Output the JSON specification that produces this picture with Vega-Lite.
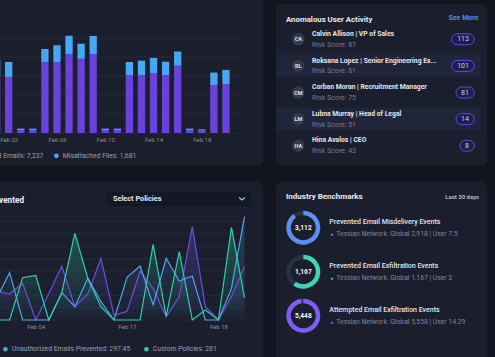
{
  "$schema": "https://vega.github.io/schema/vega-lite/v6.json",
  "background": "#12151e",
  "padding": {"left": -130, "top": -20, "right": 8, "bottom": 0},
  "autosize": {"type": "pad"},
  "config": {
    "font": "Roboto",
    "view": {"stroke": null},
    "legend": {"labelFont": "Roboto"},
    "axis": {"labelFont": "Roboto", "titleFont": "Roboto"}
  },
  "datasets": {
    "bars": [
      {"date": "2024/02/01", "type": "Misdirected Emails", "count": 298}, {"date": "2024/02/01", "type": "Misattached Files", "count": 88},
      {"date": "2024/02/02", "type": "Misdirected Emails", "count": 295}, {"date": "2024/02/02", "type": "Misattached Files", "count": 79},
      {"date": "2024/02/03", "type": "Misdirected Emails", "count": 16}, {"date": "2024/02/03", "type": "Misattached Files", "count": 7},
      {"date": "2024/02/04", "type": "Misdirected Emails", "count": 16}, {"date": "2024/02/04", "type": "Misattached Files", "count": 7},
      {"date": "2024/02/05", "type": "Misdirected Emails", "count": 374}, {"date": "2024/02/05", "type": "Misattached Files", "count": 68},
      {"date": "2024/02/06", "type": "Misdirected Emails", "count": 374}, {"date": "2024/02/06", "type": "Misattached Files", "count": 88},
      {"date": "2024/02/07", "type": "Misdirected Emails", "count": 416}, {"date": "2024/02/07", "type": "Misattached Files", "count": 96},
      {"date": "2024/02/08", "type": "Misdirected Emails", "count": 391}, {"date": "2024/02/08", "type": "Misattached Files", "count": 79},
      {"date": "2024/02/09", "type": "Misdirected Emails", "count": 416}, {"date": "2024/02/09", "type": "Misattached Files", "count": 95},
      {"date": "2024/02/10", "type": "Misdirected Emails", "count": 16}, {"date": "2024/02/10", "type": "Misattached Files", "count": 7},
      {"date": "2024/02/11", "type": "Misdirected Emails", "count": 16}, {"date": "2024/02/11", "type": "Misattached Files", "count": 7},
      {"date": "2024/02/12", "type": "Misdirected Emails", "count": 304}, {"date": "2024/02/12", "type": "Misattached Files", "count": 70},
      {"date": "2024/02/13", "type": "Misdirected Emails", "count": 304}, {"date": "2024/02/13", "type": "Misattached Files", "count": 77},
      {"date": "2024/02/14", "type": "Misdirected Emails", "count": 316}, {"date": "2024/02/14", "type": "Misattached Files", "count": 79},
      {"date": "2024/02/15", "type": "Misdirected Emails", "count": 305}, {"date": "2024/02/15", "type": "Misattached Files", "count": 70},
      {"date": "2024/02/16", "type": "Misdirected Emails", "count": 354}, {"date": "2024/02/16", "type": "Misattached Files", "count": 75},
      {"date": "2024/02/17", "type": "Misdirected Emails", "count": 16}, {"date": "2024/02/17", "type": "Misattached Files", "count": 7},
      {"date": "2024/02/18", "type": "Misdirected Emails", "count": 13}, {"date": "2024/02/18", "type": "Misattached Files", "count": 6},
      {"date": "2024/02/19", "type": "Misdirected Emails", "count": 253}, {"date": "2024/02/19", "type": "Misattached Files", "count": 65},
      {"date": "2024/02/20", "type": "Misdirected Emails", "count": 258}, {"date": "2024/02/20", "type": "Misattached Files", "count": 74}
    ],
    "lines": [
      {"date": "2024/02/01", "series": "Sensitive Data Prevented", "value": 23.6}, {"date": "2024/02/01", "series": "Unauthorized Emails Prevented", "value": 17.6}, {"date": "2024/02/01", "series": "Custom Policies", "value": 0},
      {"date": "2024/02/02", "series": "Sensitive Data Prevented", "value": 21.1}, {"date": "2024/02/02", "series": "Unauthorized Emails Prevented", "value": 38.5}, {"date": "2024/02/02", "series": "Custom Policies", "value": 0},
      {"date": "2024/02/03", "series": "Sensitive Data Prevented", "value": 29.8}, {"date": "2024/02/03", "series": "Unauthorized Emails Prevented", "value": 0}, {"date": "2024/02/03", "series": "Custom Policies", "value": 34.4},
      {"date": "2024/02/04", "series": "Sensitive Data Prevented", "value": 0}, {"date": "2024/02/04", "series": "Unauthorized Emails Prevented", "value": 0}, {"date": "2024/02/04", "series": "Custom Policies", "value": 36.3},
      {"date": "2024/02/05", "series": "Sensitive Data Prevented", "value": 21.4}, {"date": "2024/02/05", "series": "Unauthorized Emails Prevented", "value": 0}, {"date": "2024/02/05", "series": "Custom Policies", "value": 0},
      {"date": "2024/02/06", "series": "Sensitive Data Prevented", "value": 43.9}, {"date": "2024/02/06", "series": "Unauthorized Emails Prevented", "value": 22.2}, {"date": "2024/02/06", "series": "Custom Policies", "value": 22.2},
      {"date": "2024/02/07", "series": "Sensitive Data Prevented", "value": 10.8}, {"date": "2024/02/07", "series": "Unauthorized Emails Prevented", "value": 10.8}, {"date": "2024/02/07", "series": "Custom Policies", "value": 70.5},
      {"date": "2024/02/08", "series": "Sensitive Data Prevented", "value": 21.4}, {"date": "2024/02/08", "series": "Unauthorized Emails Prevented", "value": 34.1}, {"date": "2024/02/08", "series": "Custom Policies", "value": 33.6},
      {"date": "2024/02/09", "series": "Sensitive Data Prevented", "value": 49.9}, {"date": "2024/02/09", "series": "Unauthorized Emails Prevented", "value": 14.9}, {"date": "2024/02/09", "series": "Custom Policies", "value": 10.8},
      {"date": "2024/02/10", "series": "Sensitive Data Prevented", "value": 3.8}, {"date": "2024/02/10", "series": "Unauthorized Emails Prevented", "value": 0}, {"date": "2024/02/10", "series": "Custom Policies", "value": 0},
      {"date": "2024/02/11", "series": "Sensitive Data Prevented", "value": 7}, {"date": "2024/02/11", "series": "Unauthorized Emails Prevented", "value": 34.7}, {"date": "2024/02/11", "series": "Custom Policies", "value": 0},
      {"date": "2024/02/12", "series": "Sensitive Data Prevented", "value": 39.8}, {"date": "2024/02/12", "series": "Unauthorized Emails Prevented", "value": 43.9}, {"date": "2024/02/12", "series": "Custom Policies", "value": 0},
      {"date": "2024/02/13", "series": "Sensitive Data Prevented", "value": 25.5}, {"date": "2024/02/13", "series": "Unauthorized Emails Prevented", "value": 12.2}, {"date": "2024/02/13", "series": "Custom Policies", "value": 61.5},
      {"date": "2024/02/14", "series": "Sensitive Data Prevented", "value": 2.7}, {"date": "2024/02/14", "series": "Unauthorized Emails Prevented", "value": 50.1}, {"date": "2024/02/14", "series": "Custom Policies", "value": 3},
      {"date": "2024/02/15", "series": "Sensitive Data Prevented", "value": 19}, {"date": "2024/02/15", "series": "Unauthorized Emails Prevented", "value": 31.7}, {"date": "2024/02/15", "series": "Custom Policies", "value": 55.6},
      {"date": "2024/02/16", "series": "Sensitive Data Prevented", "value": 75.9}, {"date": "2024/02/16", "series": "Unauthorized Emails Prevented", "value": 35.8}, {"date": "2024/02/16", "series": "Custom Policies", "value": 0},
      {"date": "2024/02/17", "series": "Sensitive Data Prevented", "value": 10.8}, {"date": "2024/02/17", "series": "Unauthorized Emails Prevented", "value": 0}, {"date": "2024/02/17", "series": "Custom Policies", "value": 8.1},
      {"date": "2024/02/18", "series": "Sensitive Data Prevented", "value": 0}, {"date": "2024/02/18", "series": "Unauthorized Emails Prevented", "value": 0}, {"date": "2024/02/18", "series": "Custom Policies", "value": 0},
      {"date": "2024/02/19", "series": "Sensitive Data Prevented", "value": 19}, {"date": "2024/02/19", "series": "Unauthorized Emails Prevented", "value": 25.7}, {"date": "2024/02/19", "series": "Custom Policies", "value": 75.3},
      {"date": "2024/02/20", "series": "Sensitive Data Prevented", "value": 43.4}, {"date": "2024/02/20", "series": "Unauthorized Emails Prevented", "value": 84}, {"date": "2024/02/20", "series": "Custom Policies", "value": 18.2}
    ],
    "users": [
      {"initials": "CA", "user": "Calvin Allison | VP of Sales", "risk": 87, "events": 113},
      {"initials": "RL", "user": "Roksana Lopez | Senior Engineering Ex...", "risk": 81, "events": 101},
      {"initials": "CM", "user": "Corban Moran | Recruitment Manager", "risk": 75, "events": 81},
      {"initials": "LM", "user": "Lubna Murray | Head of Legal", "risk": 51, "events": 14},
      {"initials": "HA", "user": "Hina Avalos | CEO", "risk": 43, "events": 8}
    ],
    "bench": [
      {"event": "Prevented Email Misdelivery Events", "total": 3112, "global": 2918, "user": 7.5, "share": 0.9},
      {"event": "Prevented Email Exfiltration Events", "total": 1167, "global": 1167, "user": 3, "share": 0.6},
      {"event": "Attempted Email Exfiltration Events", "total": 5448, "global": 5558, "user": 14.29, "share": 0.98}
    ]
  },
  "spacing": 13,
  "resolve": {"scale": {"color": "independent"}, "legend": {"color": "independent"}},
  "hconcat": [
    {
      "bounds": "flush",
      "spacing": 16,
      "resolve": {"scale": {"color": "independent"}, "legend": {"color": "independent"}},
      "vconcat": [
        {
          "width": 393,
          "height": 186,
          "view": {"fill": "#1b1f2d", "cornerRadius": 6, "stroke": null},
          "layer": [
            {
              "data": {"values": [{"tick": 0}, {"tick": 100}, {"tick": 200}, {"tick": 300}, {"tick": 400}, {"tick": 500}]},
              "mark": {"type": "rule", "color": "#282d3b", "strokeWidth": 0.8},
              "encoding": {
                "x": {"datum": {"year": 2024, "month": 1, "date": 22}, "type": "temporal",
                      "scale": {"domain": [{"year": 2024, "month": 1, "date": 21, "hours": 12, "minutes": 13}, {"year": 2024, "month": 2, "date": 23, "hours": 1, "minutes": 39}], "nice": false, "padding": 0}},
                "x2": {"datum": {"year": 2024, "month": 2, "date": 21, "hours": 4}},
                "y": {"field": "tick", "type": "quantitative", "scale": {"domain": [-173.7, 805.3], "nice": false, "zero": false, "padding": 0}, "axis": null}
              }
            },
            {
              "data": {"name": "bars"},
              "mark": {"type": "bar", "width": 7.3},
              "encoding": {
                "x": {"field": "date", "type": "temporal",
                      "scale": {"domain": [{"year": 2024, "month": 1, "date": 21, "hours": 12, "minutes": 13}, {"year": 2024, "month": 2, "date": 23, "hours": 1, "minutes": 39}], "nice": false, "padding": 0},
                      "axis": {"orient": "bottom", "offset": -33, "values": [{"year": 2024, "month": 2, "date": 2}, {"year": 2024, "month": 2, "date": 6}, {"year": 2024, "month": 2, "date": 10}, {"year": 2024, "month": 2, "date": 14}, {"year": 2024, "month": 2, "date": 18}],
                               "format": "%b %d", "labelFontSize": 6, "labelColor": "#868b98", "ticks": false, "domain": false, "grid": false, "labelPadding": 3, "title": null, "labelOverlap": false, "labelFlush": false}},
                "y": {"field": "count", "type": "quantitative", "stack": "zero", "scale": {"domain": [-173.7, 805.3], "nice": false, "zero": false, "padding": 0}, "axis": null},
                "color": {"field": "type", "type": "nominal",
                          "scale": {"domain": ["Misdirected Emails", "Misattached Files"], "range": ["#6a42d9", "#46a8f1"]},
                          "legend": {"orient": "none", "legendX": 86, "legendY": 172, "direction": "horizontal", "title": null, "padding": 0,
                                     "labelFontSize": 6.8, "labelColor": "#9aa0ac", "symbolType": "circle", "symbolSize": 22, "symbolStrokeWidth": 0,
                                     "columnPadding": 9, "labelOffset": 3,
                                     "labelExpr": "datum.label == 'Misdirected Emails' ? 'Misdirected Emails: 7,237' : 'Misattached Files: 1,681'"}},
                "order": {"field": "type", "type": "ordinal", "sort": "descending"}
              }
            }
          ]
        },
        {
          "width": 393,
          "height": 185,
          "view": {"fill": "#1b1f2d", "cornerRadius": 6, "stroke": null},
          "title": {"text": "Emails Prevented", "anchor": "start", "frame": "group", "align": "right", "dx": 154, "offset": -27, "baseline": "middle", "fontSize": 8.2, "fontWeight": "bold", "color": "#eef0f4"},
          "layer": [
            {
              "data": {"values": [{"tick": 0}, {"tick": 10}, {"tick": 20}, {"tick": 30}, {"tick": 40}, {"tick": 50}, {"tick": 60}, {"tick": 70}, {"tick": 80}]},
              "mark": {"type": "rule", "color": "#282d3b", "strokeWidth": 0.8},
              "encoding": {
                "x": {"datum": {"year": 2024, "month": 1, "date": 23}, "type": "temporal",
                      "scale": {"domain": [{"year": 2024, "month": 1, "date": 22, "hours": 7, "minutes": 16}, {"year": 2024, "month": 2, "date": 21, "hours": 10, "minutes": 2}], "nice": false, "padding": 0}},
                "x2": {"datum": {"year": 2024, "month": 2, "date": 20}},
                "y": {"field": "tick", "type": "quantitative", "scale": {"domain": [-38.2, 112.2], "nice": false, "zero": false, "padding": 0}, "axis": null}
              }
            },
            {
              "data": {"values": [{"control": "Select Policies"}]},
              "mark": {"type": "rect", "fill": "#141824", "stroke": "#20253a", "strokeWidth": 0.8, "cornerRadius": 3},
              "encoding": {
                "x": {"datum": {"year": 2024, "month": 2, "date": 9, "hours": 9, "minutes": 17}, "type": "temporal",
                      "scale": {"domain": [{"year": 2024, "month": 1, "date": 22, "hours": 7, "minutes": 16}, {"year": 2024, "month": 2, "date": 21, "hours": 10, "minutes": 2}], "nice": false, "padding": 0}},
                "x2": {"datum": {"year": 2024, "month": 2, "date": 20, "hours": 13, "minutes": 48}},
                "y": {"datum": 104.3, "type": "quantitative", "scale": {"domain": [-38.2, 112.2], "nice": false, "zero": false, "padding": 0}, "axis": null},
                "y2": {"datum": 91.9}
              }
            },
            {
              "data": {"values": [{"control": "Select Policies"}]},
              "mark": {"type": "text", "align": "left", "baseline": "middle", "fontSize": 7.3, "fontWeight": "bold", "color": "#e6e8ef"},
              "encoding": {
                "x": {"datum": {"year": 2024, "month": 2, "date": 9, "hours": 22, "minutes": 9}, "type": "temporal",
                      "scale": {"domain": [{"year": 2024, "month": 1, "date": 22, "hours": 7, "minutes": 16}, {"year": 2024, "month": 2, "date": 21, "hours": 10, "minutes": 2}], "nice": false, "padding": 0}},
                "y": {"datum": 98.4, "type": "quantitative", "scale": {"domain": [-38.2, 112.2], "nice": false, "zero": false, "padding": 0}, "axis": null},
                "text": {"field": "control"}
              }
            },
            {
              "data": {"values": [{"control": "Select Policies"}]},
              "mark": {"type": "point", "shape": "M -1 -0.45 L 0 0.45 L 1 -0.45", "filled": false, "size": 32, "stroke": "#b9c5de", "strokeWidth": 1.2, "opacity": 1},
              "encoding": {
                "x": {"datum": {"year": 2024, "month": 2, "date": 19, "hours": 19, "minutes": 24}, "type": "temporal",
                      "scale": {"domain": [{"year": 2024, "month": 1, "date": 22, "hours": 7, "minutes": 16}, {"year": 2024, "month": 2, "date": 21, "hours": 10, "minutes": 2}], "nice": false, "padding": 0}},
                "y": {"datum": 98.6, "type": "quantitative", "scale": {"domain": [-38.2, 112.2], "nice": false, "zero": false, "padding": 0}, "axis": null}
              }
            },
            {
              "data": {"name": "lines"},
              "transform": [{"filter": "datum.series == 'Sensitive Data Prevented'"}],
              "mark": {"type": "area", "fill": {"gradient": "linear", "x1": 0, "y1": 0, "x2": 0, "y2": 1, "stops": [{"offset": 0, "color": "rgba(107,78,217,0.35)"}, {"offset": 1, "color": "rgba(107,78,217,0)"}]}},
              "encoding": {
                "x": {"field": "date", "type": "temporal",
                      "scale": {"domain": [{"year": 2024, "month": 1, "date": 22, "hours": 7, "minutes": 16}, {"year": 2024, "month": 2, "date": 21, "hours": 10, "minutes": 2}], "nice": false, "padding": 0}},
                "y": {"field": "value", "type": "quantitative", "stack": null, "scale": {"domain": [-38.2, 112.2], "nice": false, "zero": false, "padding": 0}, "axis": null}
              }
            },
            {
              "data": {"name": "lines"},
              "transform": [{"filter": "datum.series == 'Custom Policies'"}],
              "mark": {"type": "area", "fill": {"gradient": "linear", "x1": 0, "y1": 0, "x2": 0, "y2": 1, "stops": [{"offset": 0, "color": "rgba(47,207,168,0.32)"}, {"offset": 1, "color": "rgba(47,207,168,0)"}]}},
              "encoding": {
                "x": {"field": "date", "type": "temporal",
                      "scale": {"domain": [{"year": 2024, "month": 1, "date": 22, "hours": 7, "minutes": 16}, {"year": 2024, "month": 2, "date": 21, "hours": 10, "minutes": 2}], "nice": false, "padding": 0}},
                "y": {"field": "value", "type": "quantitative", "stack": null, "scale": {"domain": [-38.2, 112.2], "nice": false, "zero": false, "padding": 0}, "axis": null}
              }
            },
            {
              "data": {"name": "lines"},
              "transform": [{"filter": "datum.series == 'Unauthorized Emails Prevented'"}],
              "mark": {"type": "area", "fill": {"gradient": "linear", "x1": 0, "y1": 0, "x2": 0, "y2": 1, "stops": [{"offset": 0, "color": "rgba(77,163,234,0.25)"}, {"offset": 1, "color": "rgba(77,163,234,0)"}]}},
              "encoding": {
                "x": {"field": "date", "type": "temporal",
                      "scale": {"domain": [{"year": 2024, "month": 1, "date": 22, "hours": 7, "minutes": 16}, {"year": 2024, "month": 2, "date": 21, "hours": 10, "minutes": 2}], "nice": false, "padding": 0}},
                "y": {"field": "value", "type": "quantitative", "stack": null, "scale": {"domain": [-38.2, 112.2], "nice": false, "zero": false, "padding": 0}, "axis": null}
              }
            },
            {
              "data": {"name": "lines"},
              "mark": {"type": "line", "strokeWidth": 1.2},
              "encoding": {
                "x": {"field": "date", "type": "temporal",
                      "scale": {"domain": [{"year": 2024, "month": 1, "date": 22, "hours": 7, "minutes": 16}, {"year": 2024, "month": 2, "date": 21, "hours": 10, "minutes": 2}], "nice": false, "padding": 0},
                      "axis": {"orient": "bottom", "offset": -47, "values": [{"year": 2024, "month": 2, "date": 4}, {"year": 2024, "month": 2, "date": 11}, {"year": 2024, "month": 2, "date": 18}],
                               "format": "%b %d", "labelFontSize": 6, "labelColor": "#868b98", "ticks": false, "domain": false, "grid": false, "labelPadding": 3, "title": null, "labelOverlap": false, "labelFlush": false}},
                "y": {"field": "value", "type": "quantitative", "stack": null, "scale": {"domain": [-38.2, 112.2], "nice": false, "zero": false, "padding": 0}, "axis": null},
                "color": {"field": "series", "type": "nominal",
                          "scale": {"domain": ["Sensitive Data Prevented", "Unauthorized Emails Prevented", "Custom Policies"], "range": ["#6c4fd9", "#4da6ea", "#2fcfa8"]},
                          "legend": {"orient": "none", "legendX": 35, "legendY": 163.5, "direction": "horizontal", "title": null, "padding": 0,
                                     "labelFontSize": 6.8, "labelColor": "#9aa0ac", "symbolType": "circle", "symbolSize": 5, "symbolStrokeWidth": 2.4,
                                     "columnPadding": 9, "labelOffset": 3,
                                     "labelExpr": "datum.label == 'Unauthorized Emails Prevented' ? datum.label + ': 297.45' : datum.label == 'Custom Policies' ? datum.label + ': 281' : datum.label"}}
              }
            }
          ]
        }
      ]
    },
    {
      "bounds": "flush",
      "spacing": 16,
      "resolve": {"scale": {"color": "independent"}, "legend": {"color": "independent"}},
      "vconcat": [
        {
          "width": 211,
          "height": 8,
          "data": {"values": []},
          "mark": {"type": "point", "opacity": 0},
          "encoding": {}
        },
        {
          "width": 211,
          "height": 162,
          "view": {"fill": "#1b1f2d", "cornerRadius": 6, "stroke": null},
          "title": {"text": "Anomalous User Activity", "anchor": "start", "frame": "group", "align": "left", "dx": 10, "offset": -24, "baseline": "middle", "fontSize": 7.8, "fontWeight": "bold", "color": "#e9ebf0"},
          "data": {"name": "users"},
          "transform": [
            {"calculate": "'Risk Score: ' + datum.risk", "as": "riskLabel"},
            {"window": [{"op": "row_number", "as": "row"}]}
          ],
          "encoding": {
            "y": {"field": "user", "type": "nominal",
                  "scale": {"type": "band", "domain": ["Calvin Allison | VP of Sales", "Roksana Lopez | Senior Engineering Ex...", "Corban Moran | Recruitment Manager", "Lubna Murray | Head of Legal", "Hina Avalos | CEO"], "paddingInner": 0, "paddingOuter": 0.545, "align": 0.759},
                  "axis": null}
          },
          "layer": [
            {
              "transform": [{"filter": "datum.row % 2 == 0"}],
              "mark": {"type": "bar", "color": "#20253a", "height": {"band": 0.84}},
              "encoding": {
                "x": {"datum": 0, "type": "quantitative", "scale": {"domain": [0, 100], "nice": false, "zero": false, "padding": 0},
                      "axis": {"orient": "top", "title": "See More", "titleX": 202, "titleY": 13.7, "titleAlign": "right", "titleBaseline": "middle", "titleColor": "#4f8ef0", "titleFontSize": 7, "titleFontWeight": "bold", "labels": false, "ticks": false, "domain": false, "grid": false}},
                "x2": {"datum": 97}
              }
            },
            {
              "mark": {"type": "point", "filled": true, "size": 154, "color": "#363b4a", "opacity": 1},
              "encoding": {"x": {"datum": 10.57, "type": "quantitative", "scale": {"domain": [0, 100], "nice": false, "zero": false, "padding": 0}}}
            },
            {
              "mark": {"type": "text", "fontSize": 5.5, "fontWeight": "bold", "color": "#dfe2ea", "baseline": "middle"},
              "encoding": {"x": {"datum": 10.57, "type": "quantitative", "scale": {"domain": [0, 100], "nice": false, "zero": false, "padding": 0}}, "text": {"field": "initials"}}
            },
            {
              "mark": {"type": "text", "fontSize": 6.8, "fontWeight": "bold", "color": "#e4e6ec", "align": "left", "baseline": "middle", "dy": -5.3},
              "encoding": {"x": {"datum": 17.06, "type": "quantitative", "scale": {"domain": [0, 100], "nice": false, "zero": false, "padding": 0}}, "text": {"field": "user"}}
            },
            {
              "mark": {"type": "text", "fontSize": 7, "color": "#767c8b", "align": "left", "baseline": "middle", "dy": 5.5},
              "encoding": {"x": {"datum": 17.06, "type": "quantitative", "scale": {"domain": [0, 100], "nice": false, "zero": false, "padding": 0}}, "text": {"field": "riskLabel"}}
            },
            {
              "transform": [{"filter": "datum.events >= 100"}],
              "mark": {"type": "point", "shape": "M -3.11 -1 L -1 -1 C -0.448 -1 0 -0.552 0 0 C 0 0.552 -0.448 1 -1 1 L -3.11 1 C -3.662 1 -4.11 0.552 -4.11 0 C -4.11 -0.552 -3.662 -1 -3.11 -1 Z", "filled": true, "size": 121, "fill": "#1f1d4a", "stroke": "#5b4ce0", "strokeWidth": 1, "opacity": 1},
              "encoding": {"x": {"datum": 93.98, "type": "quantitative", "scale": {"domain": [0, 100], "nice": false, "zero": false, "padding": 0}}}
            },
            {
              "transform": [{"filter": "datum.events >= 10 && datum.events < 100"}],
              "mark": {"type": "point", "shape": "M -2.33 -1 L -1 -1 C -0.448 -1 0 -0.552 0 0 C 0 0.552 -0.448 1 -1 1 L -2.33 1 C -2.882 1 -3.33 0.552 -3.33 0 C -3.33 -0.552 -2.882 -1 -2.33 -1 Z", "filled": true, "size": 121, "fill": "#1f1d4a", "stroke": "#5b4ce0", "strokeWidth": 1, "opacity": 1},
              "encoding": {"x": {"datum": 93.98, "type": "quantitative", "scale": {"domain": [0, 100], "nice": false, "zero": false, "padding": 0}}}
            },
            {
              "transform": [{"filter": "datum.events < 10"}],
              "mark": {"type": "point", "shape": "M -1.6 -1 L -1 -1 C -0.448 -1 0 -0.552 0 0 C 0 0.552 -0.448 1 -1 1 L -1.6 1 C -2.152 1 -2.6 0.552 -2.6 0 C -2.6 -0.552 -2.152 -1 -1.6 -1 Z", "filled": true, "size": 121, "fill": "#1f1d4a", "stroke": "#5b4ce0", "strokeWidth": 1, "opacity": 1},
              "encoding": {"x": {"datum": 93.98, "type": "quantitative", "scale": {"domain": [0, 100], "nice": false, "zero": false, "padding": 0}}}
            },
            {
              "mark": {"type": "text", "fontSize": 7, "color": "#cfccf6", "align": "right", "baseline": "middle", "dx": -5.3},
              "encoding": {"x": {"datum": 93.98, "type": "quantitative", "scale": {"domain": [0, 100], "nice": false, "zero": false, "padding": 0}}, "text": {"field": "events"}}
            }
          ]
        },
        {
          "width": 211,
          "height": 185,
          "view": {"fill": "#1b1f2d", "cornerRadius": 6, "stroke": null},
          "title": {"text": "Industry Benchmarks", "anchor": "start", "frame": "group", "align": "left", "dx": 10, "offset": -22.7, "baseline": "middle", "fontSize": 8, "fontWeight": "bold", "color": "#e9ebf0"},
          "data": {"name": "bench"},
          "transform": [
            {"calculate": "'Tessian Network: Global ' + format(datum.global, ',') + ' | User ' + datum.user", "as": "network"}
          ],
          "encoding": {
            "y": {"field": "event", "type": "nominal",
                  "scale": {"type": "band", "domain": ["Prevented Email Misdelivery Events", "Prevented Email Exfiltration Events", "Attempted Email Exfiltration Events"], "paddingInner": 0, "paddingOuter": 0.602, "align": 0.447},
                  "axis": null}
          },
          "layer": [
            {
              "mark": {"type": "arc", "theta": 0, "theta2": 6.2832, "outerRadius": 17, "innerRadius": 12.5, "color": "#2a3040"},
              "encoding": {
                "x": {"datum": 12.94, "type": "quantitative", "scale": {"domain": [0, 100], "nice": false, "zero": false, "padding": 0},
                      "axis": {"orient": "top", "title": "Last 30 days", "titleX": 202.7, "titleY": 14.7, "titleAlign": "right", "titleBaseline": "middle", "titleColor": "#c9ccd4", "titleFontSize": 6, "titleFontWeight": 500, "labels": false, "ticks": false, "domain": false, "grid": false}}
              }
            },
            {
              "mark": {"type": "arc", "outerRadius": 17, "innerRadius": 12.5},
              "encoding": {
                "x": {"datum": 12.94, "type": "quantitative", "scale": {"domain": [0, 100], "nice": false, "zero": false, "padding": 0}},
                "theta": {"field": "share", "type": "quantitative", "stack": null, "scale": {"domain": [0, 1], "range": [0, 6.2832]}},
                "color": {"field": "event", "type": "nominal",
                          "scale": {"domain": ["Prevented Email Misdelivery Events", "Prevented Email Exfiltration Events", "Attempted Email Exfiltration Events"], "range": ["#5b8ff2", "#3fd5b1", "#7e5ef2"]},
                          "legend": null}
              }
            },
            {
              "mark": {"type": "text", "fontSize": 6.6, "fontWeight": "bold", "color": "#f2f3f7", "baseline": "middle"},
              "encoding": {
                "x": {"datum": 12.94, "type": "quantitative", "scale": {"domain": [0, 100], "nice": false, "zero": false, "padding": 0}},
                "text": {"field": "total", "type": "quantitative", "format": ","}
              }
            },
            {
              "mark": {"type": "text", "fontSize": 7, "fontWeight": 500, "color": "#e2e4ea", "align": "left", "baseline": "middle", "dy": -6},
              "encoding": {
                "x": {"datum": 25.26, "type": "quantitative", "scale": {"domain": [0, 100], "nice": false, "zero": false, "padding": 0}},
                "text": {"field": "event"}
              }
            },
            {
              "mark": {"type": "text", "fontSize": 5, "align": "center", "baseline": "middle", "dy": 6.3, "text": "●"},
              "encoding": {
                "x": {"datum": 26.4, "type": "quantitative", "scale": {"domain": [0, 100], "nice": false, "zero": false, "padding": 0}},
                "color": {"field": "event", "type": "nominal", "legend": null}
              }
            },
            {
              "mark": {"type": "text", "fontSize": 6.8, "color": "#80869a", "align": "left", "baseline": "middle", "dy": 6.3},
              "encoding": {
                "x": {"datum": 28.58, "type": "quantitative", "scale": {"domain": [0, 100], "nice": false, "zero": false, "padding": 0}},
                "text": {"field": "network"}
              }
            }
          ]
        }
      ]
    }
  ]
}
